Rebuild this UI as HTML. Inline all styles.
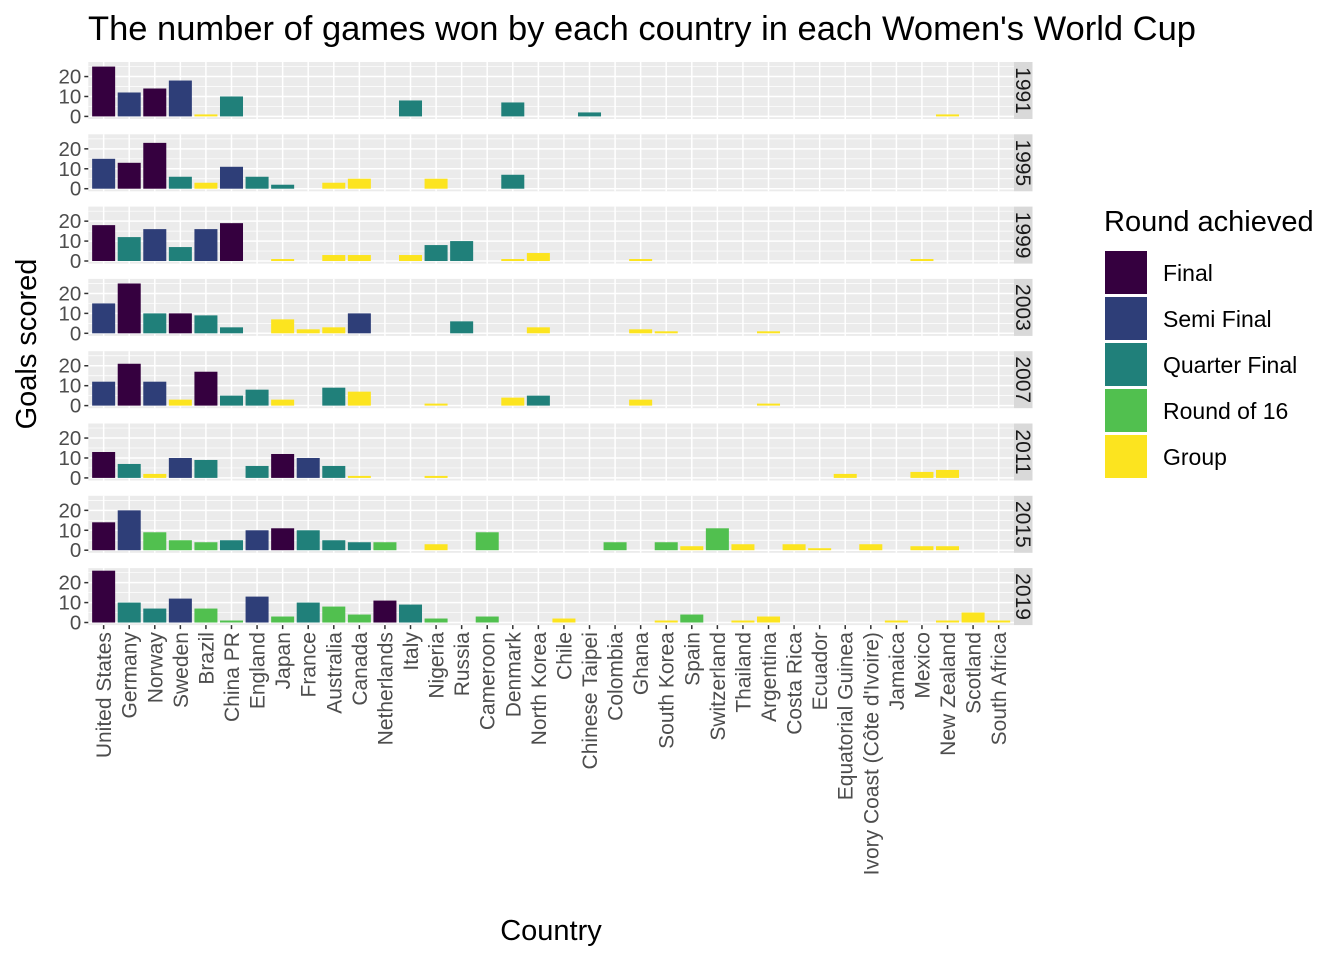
<!DOCTYPE html>
<html><head><meta charset="utf-8"><style>
body{margin:0;background:#fff;}
svg{display:block;font-family:"Liberation Sans",Arial,sans-serif;}
</style></head><body>
<svg id="chart" width="1344" height="960" viewBox="0 0 1344 960" xmlns="http://www.w3.org/2000/svg">
<rect width="1344" height="960" fill="#fff"/>
<text x="88" y="40" font-size="34.5" fill="#000">The number of games won by each country in each Women's World Cup</text>
<text transform="translate(36,344) rotate(-90)" text-anchor="middle" font-size="29" fill="#000">Goals scored</text>
<text x="551" y="940" text-anchor="middle" font-size="29" fill="#000">Country</text>
<g id="panels"></g>
<g id="xlabels"></g>
<g id="legend">
<text x="1104" y="231" font-size="29" fill="#000">Round achieved</text>
</g>
</svg>
<script>
const countries = ["United States","Germany","Norway","Sweden","Brazil","China PR","England","Japan","France","Australia","Canada","Netherlands","Italy","Nigeria","Russia","Cameroon","Denmark","North Korea","Chile","Chinese Taipei","Colombia","Ghana","South Korea","Spain","Switzerland","Thailand","Argentina","Costa Rica","Ecuador","Equatorial Guinea","Ivory Coast (Côte d'Ivoire)","Jamaica","Mexico","New Zealand","Scotland","South Africa"];
const years = ["1991","1995","1999","2003","2007","2011","2015","2019"];
const rounds = ["Final","Semi Final","Quarter Final","Round of 16","Group"];
const roundColors = ["#35003f","#2e3e78","#20807a","#51c04f","#fce41f"];
const yTicks = [0,10,20];
// per year: [country, goals, round index]
const w1991 = [["United States",25,0],["Germany",12,1],["Norway",14,0],["Sweden",18,1],["Brazil",1,4],["China PR",10,2],["Italy",8,2],["Denmark",7,2],["Chinese Taipei",2,2],["New Zealand",1,4]];
const w1995 = [["United States",15,1],["Germany",13,0],["Norway",23,0],["Sweden",6,2],["Brazil",3,4],["China PR",11,1],["England",6,2],["Japan",2,2],["Australia",3,4],["Canada",5,4],["Nigeria",5,4],["Denmark",7,2]];
const w1999 = [["United States",18,0],["Germany",12,2],["Norway",16,1],["Sweden",7,2],["Brazil",16,1],["China PR",19,0],["Japan",1,4],["Australia",3,4],["Canada",3,4],["Italy",3,4],["Nigeria",8,2],["Russia",10,2],["Denmark",1,4],["North Korea",4,4],["Ghana",1,4],["Mexico",1,4]];
const w2003 = [["United States",15,1],["Germany",25,0],["Norway",10,2],["Sweden",10,0],["Brazil",9,2],["China PR",3,2],["Japan",7,4],["France",2,4],["Australia",3,4],["Canada",10,1],["Russia",6,2],["North Korea",3,4],["Ghana",2,4],["South Korea",1,4],["Argentina",1,4]];
const w2007 = [["United States",12,1],["Germany",21,0],["Norway",12,1],["Sweden",3,4],["Brazil",17,0],["China PR",5,2],["England",8,2],["Japan",3,4],["Australia",9,2],["Canada",7,4],["Nigeria",1,4],["Denmark",4,4],["North Korea",5,2],["Ghana",3,4],["Argentina",1,4]];
const w2011 = [["United States",13,0],["Germany",7,2],["Norway",2,4],["Sweden",10,1],["Brazil",9,2],["England",6,2],["Japan",12,0],["France",10,1],["Australia",6,2],["Canada",1,4],["Nigeria",1,4],["Equatorial Guinea",2,4],["Mexico",3,4],["New Zealand",4,4]];
const w2015 = [["United States",14,0],["Germany",20,1],["Norway",9,3],["Sweden",5,3],["Brazil",4,3],["China PR",5,2],["England",10,1],["Japan",11,0],["France",10,2],["Australia",5,2],["Canada",4,2],["Netherlands",4,3],["Nigeria",3,4],["Cameroon",9,3],["Colombia",4,3],["South Korea",4,3],["Spain",2,4],["Switzerland",11,3],["Thailand",3,4],["Costa Rica",3,4],["Ecuador",1,4],["Ivory Coast (Côte d'Ivoire)",3,4],["Mexico",2,4],["New Zealand",2,4]];
const w2019 = [["United States",26,0],["Germany",10,2],["Norway",7,2],["Sweden",12,1],["Brazil",7,3],["China PR",1,3],["England",13,1],["Japan",3,3],["France",10,2],["Australia",8,3],["Canada",4,3],["Netherlands",11,0],["Italy",9,2],["Nigeria",2,3],["Cameroon",3,3],["Chile",2,4],["South Korea",1,4],["Spain",4,3],["Thailand",1,4],["Argentina",3,4],["Jamaica",1,4],["New Zealand",1,4],["Scotland",5,4],["South Africa",1,4]];
const yearData = [w1991,w1995,w1999,w2003,w2007,w2011,w2015,w2019];

const NS="http://www.w3.org/2000/svg";
function mk(tag,attrs,parent){const e=document.createElementNS(NS,tag);for(const k in attrs)e.setAttribute(k,attrs[k]);parent.appendChild(e);return e;}
const pL=88.3, pR=1014, stripW=18.5, pH=57, pTop0=62, pStep=72.3;
const band=(pR-pL)/(countries.length-1+1.2);
const xC=i=>pL+(0.6+i)*band;
const yMax=27.3, yMin=-1.3;
const yS=(v,top)=>top+(yMax-v)/(yMax-yMin)*pH;
const panels=document.getElementById('panels');
years.forEach((yr,p)=>{
  const top=pTop0+p*pStep;
  const g=mk('g',{},panels);
  
  
  const bg=mk('rect',{x:pL,y:top,width:pR-pL,height:pH,fill:'#ebebeb'},g);
  
  
  [5,15,25].forEach(v=>{const l=mk('line',{x1:pL,x2:pR,y1:yS(v,top),y2:yS(v,top),stroke:'#fff','stroke-width':0.7},g);
    });
  yTicks.forEach(v=>{const y=yS(v,top);
    const l=mk('line',{x1:pL,x2:pR,y1:y,y2:y,stroke:'#fff','stroke-width':1.5},g);
    
    const t=mk('line',{x1:pL-4,x2:pL,y1:y,y2:y,stroke:'#333','stroke-width':1.5},g);
    
    const tx=mk('text',{x:pL-7,y:y+7,'text-anchor':'end','font-size':20.5,fill:'#4d4d4d'},g);tx.textContent=v;
    });
  countries.forEach((c,i)=>{const l=mk('line',{x1:xC(i),x2:xC(i),y1:top,y2:top+pH,stroke:'#fff','stroke-width':1.5},g);
    });
  yearData[p].forEach(d=>{const i=countries.indexOf(d[0]);const y0=yS(0,top),y1=yS(d[1],top);
    const r=mk('rect',{x:xC(i)-band*0.45,y:y1,width:band*0.9,height:y0-y1,fill:roundColors[d[2]]},g);
    
    });
  const s=mk('rect',{x:pR,y:top,width:stripW,height:pH,fill:'#d9d9d9'},g);
  
  const st=mk('text',{transform:`translate(${pR+stripW/2-7.5},${top+pH/2}) rotate(90)`,'text-anchor':'middle','font-size':21,fill:'#1a1a1a'},g);
  st.textContent=yr;
  
});
const xl=document.getElementById('xlabels');
const lastBottom=pTop0+7*pStep+pH;
countries.forEach((c,i)=>{
  const t=mk('line',{x1:xC(i),x2:xC(i),y1:lastBottom,y2:lastBottom+4,stroke:'#333','stroke-width':1.5},xl);
  
  const tx=mk('text',{transform:`translate(${xC(i)+7.5},${lastBottom+7}) rotate(-90)`,'text-anchor':'end','font-size':21,fill:'#4d4d4d'},xl);
  tx.textContent=c;
  
});
const lg=document.getElementById('legend');
rounds.forEach((r,k)=>{
  const y=251+k*46;
  const sq=mk('rect',{x:1105,y:y,width:42,height:43,fill:roundColors[k]},lg);
  
  const t=mk('text',{x:1163,y:y+30,'font-size':23,fill:'#000'},lg);t.textContent=r;
  
});
</script>
</body></html>
